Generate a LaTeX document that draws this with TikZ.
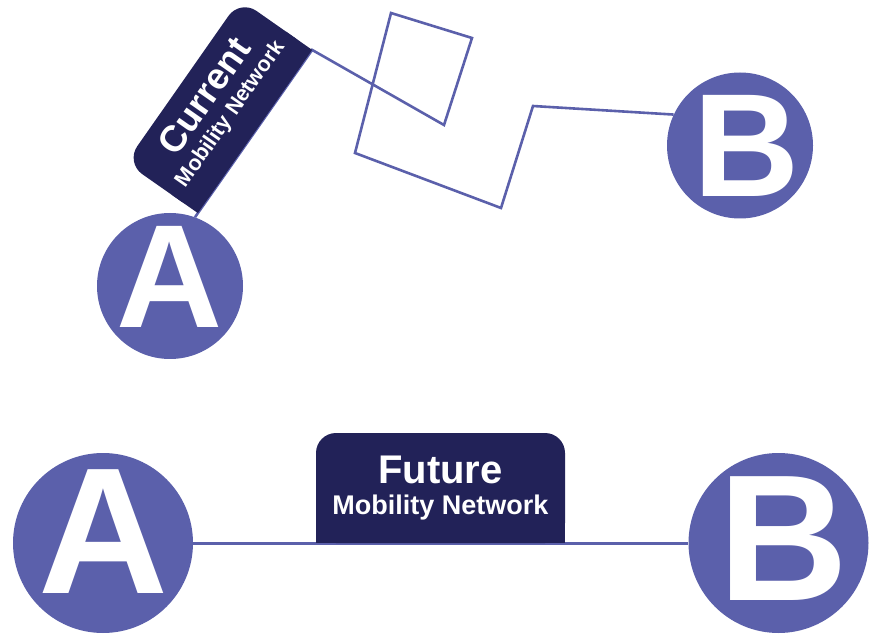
\documentclass[tikz,border=0pt]{standalone}
\usepackage{fontspec}
\setmainfont{Liberation Sans}
\usetikzlibrary{backgrounds}
\definecolor{stopblue}{RGB}{91,96,171}
\definecolor{netnavy}{RGB}{34,34,88}

\begin{document}
\begin{tikzpicture}[x=1pt, y=1pt, line cap=round, line join=round,
    stop/.style={circle, fill=stopblue, inner sep=0pt},
    stopletter/.style={text=white, inner sep=0pt, font=\bfseries\fontsize{#1}{#1}\selectfont},
    nettext/.style={text=white, anchor=base, inner sep=0pt, font=\bfseries\fontsize{#1}{#1}\selectfont},
    route/.style={draw=stopblue, line width=2.6pt}]
  \useasboundingbox (0,0) rectangle (879,633);

  % stops, current network
  \node[stop, minimum size=146pt, label={[stopletter=147, yshift=9.5pt]center:A}] (a1) at (170,347) {};
  \node[stop, minimum size=146pt, label={[stopletter=147, xshift=6.5pt]center:B}] (b1) at (740,487.5) {};

  % stops, future network
  \node[stop, minimum size=180pt, label={[stopletter=180, yshift=11pt]center:A}] (a2) at (103,90) {};
  \node[stop, minimum size=180pt, label={[stopletter=180, xshift=5pt, yshift=4.5pt]center:B}] (b2) at (778.5,90) {};

  % current label box
  \begin{scope}[shift={(255,501.5)}, rotate=55, scale=0.8, transform shape]
    \fill[netnavy, rounded corners=20pt] (-124.5,0) rectangle (124.5,110);
    \fill[netnavy] (-124.5,0) rectangle (124.5,40);
    \coordinate (cur-l) at (-124.5,0);
    \coordinate (cur-r) at (124.5,0);
    \node[nettext=46] (cur-title) at (0,62) {Current};
    \node[nettext=27] (cur-sub) at (0,30) {Mobility Network};
  \end{scope}

  % future label box
  \begin{scope}[shift={(440.5,90)}]
    \fill[netnavy, rounded corners=20pt] (-124.5,0) rectangle (124.5,110);
    \fill[netnavy] (-124.5,0) rectangle (124.5,40);
    \node[nettext=40] (fut-title) at (0,60) {Future};
    \node[nettext=27] (fut-sub) at (0,29) {Mobility Network};
  \end{scope}

  % routes
  \begin{scope}[on background layer]
    \draw[route] (a1.70) -- (cur-l) -- (cur-r) -- (444,508) -- (472,595) -- (391,620)
      -- (355,480) -- (501,425) -- (533,527) -- (b1.155);
    \draw[route, line width=3pt] (a2) -- (b2);
  \end{scope}
\end{tikzpicture}
\end{document}
